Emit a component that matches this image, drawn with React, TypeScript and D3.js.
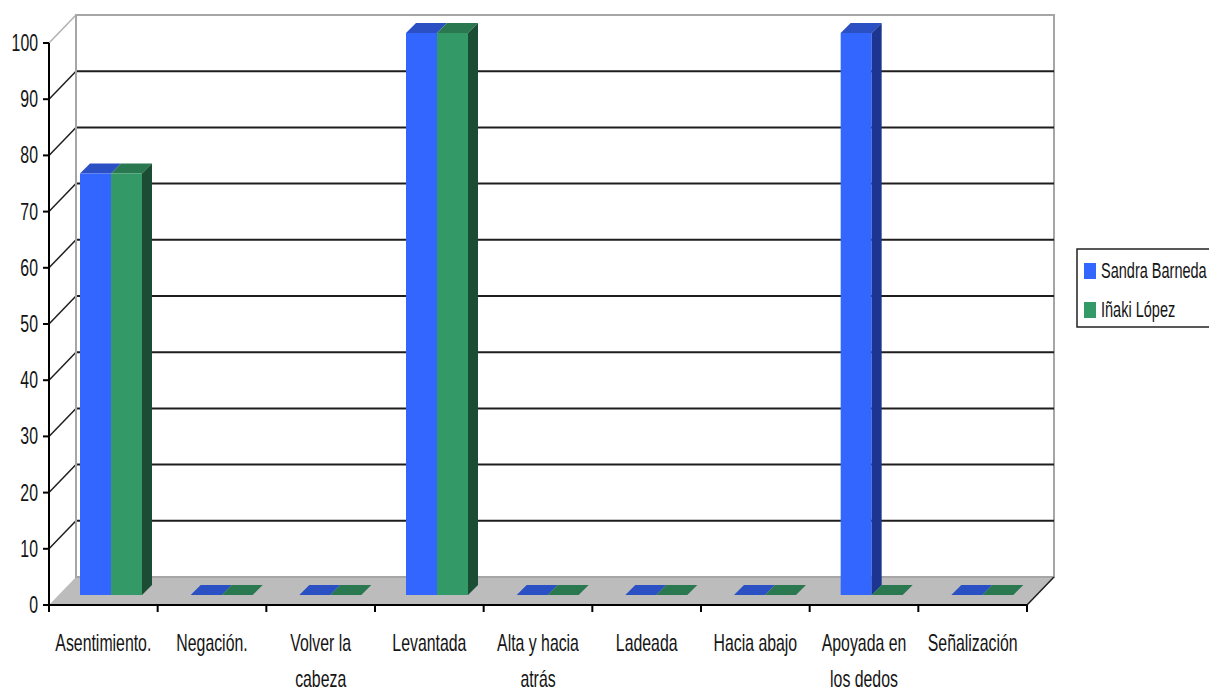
import React from "react";
import * as d3 from "d3";

const categories = [
  ["Asentimiento."],
  ["Negación."],
  ["Volver la", "cabeza"],
  ["Levantada"],
  ["Alta y hacia", "atrás"],
  ["Ladeada"],
  ["Hacia abajo"],
  ["Apoyada en", "los dedos"],
  ["Señalización"],
];
const seriesNames = ["Sandra Barneda", "Iñaki López"];
const sandraValues = [75, 0, 0, 100, 0, 0, 0, 100, 0];
const inakiValues = [75, 0, 0, 100, 0, 0, 0, 0, 0];
const yTicks = [0, 10, 20, 30, 40, 50, 60, 70, 80, 90, 100];

const seriesValues = [sandraValues, inakiValues];
const faceColors = [
  { front: "#3366ff", top: "#2a50c4", side: "#1b3590" },
  { front: "#339966", top: "#2a7850", side: "#1a4d33" },
];

const WIDTH = 1209;
const HEIGHT = 693;
const FONT = "'Liberation Sans', Arial, sans-serif";
const SQUEEZE = 0.66;

// Plot frame: the front plane of the box, and how far the back wall is pushed away.
const left = 49;
const right = 1027;
const wallDx = 27;
const wallDy = 28;
const barDepth = 10;

const x = d3.scaleBand<number>().domain(d3.range(categories.length)).range([left, right]);
const y = d3.scaleLinear().domain([0, 100]).range([605, 43]);
const inner = d3.scaleBand<number>().domain([0, 1]).range([0, 62]);
// Categories with no bars at all sit a touch further right than the raised ones.
const barStart = (i: number) =>
  (x(i) as number) + 31 + (seriesValues.every((v) => v[i] === 0) ? 2 : 0);

const poly = (pts: [number, number][]) => pts.map((p) => p.join(",")).join(" ");

function SqueezedText({ px, py, size, anchor, children }: any) {
  return (
    <text
      transform={`translate(${px},${py}) scale(${SQUEEZE},1)`}
      textAnchor={anchor}
      fontFamily={FONT}
      fontSize={size}
      fill="#141414"
    >
      {children}
    </text>
  );
}

export default function App() {
  return (
    <svg
      width={WIDTH}
      height={HEIGHT}
      style={{ position: "absolute", left: 0, top: 0, background: "#fff" }}
    >
      {/* floor */}
      <polygon
        points={poly([
          [left, y(0)],
          [left + wallDx, y(0) - wallDy],
          [right + wallDx, y(0) - wallDy],
          [right, y(0)],
        ])}
        fill="#bcbcbc"
      />
      {/* back wall */}
      <rect
        x={left + wallDx}
        y={y(100) - wallDy}
        width={right - left}
        height={y(0) - y(100)}
        fill="#fff"
        stroke="#a6a6a6"
        strokeWidth={2}
      />
      {/* gridlines across the back wall and down the side wall */}
      {yTicks.map((t) => (
        <g key={t}>
          {t > 0 && t < 100 && (
            <line
              x1={left + wallDx}
              x2={right + wallDx}
              y1={y(t) - wallDy}
              y2={y(t) - wallDy}
              stroke="#1e1e1e"
              strokeWidth={2}
            />
          )}
          {t > 0 && (
            <line
              x1={left}
              x2={left + wallDx}
              y1={y(t)}
              y2={y(t) - wallDy}
              stroke={t === 100 ? "#b0b0b0" : "#1e1e1e"}
              strokeWidth={1.5}
            />
          )}
        </g>
      ))}
      <line
        x1={left + wallDx}
        x2={left + wallDx}
        y1={y(100) - wallDy}
        y2={y(0) - wallDy}
        stroke="#a6a6a6"
        strokeWidth={2}
      />
      <line
        x1={right}
        x2={right + wallDx}
        y1={y(0)}
        y2={y(0) - wallDy}
        stroke="#1e1e1e"
        strokeWidth={1.5}
      />

      {/* bars, each with a front, top and side face */}
      {categories.map((_, i) =>
        seriesValues.map((values, s) => {
          const bx = barStart(i) + (inner(s) as number);
          const bw = inner.bandwidth();
          const base = y(0) - barDepth;
          const h = y(0) - y(values[i]);
          const top = base - h;
          const c = faceColors[s];
          return (
            <g key={`${i}-${s}`}>
              <polygon
                points={poly([
                  [bx, top],
                  [bx + barDepth, top - barDepth],
                  [bx + bw + barDepth, top - barDepth],
                  [bx + bw, top],
                ])}
                fill={c.top}
              />
              {h > 0 && (
                <>
                  <rect x={bx} y={top} width={bw} height={h} fill={c.front} />
                  {(s === 1 || seriesValues[1][i] < values[i]) && (
                    <polygon
                      points={poly([
                        [bx + bw, top],
                        [bx + bw + barDepth, top - barDepth],
                        [bx + bw + barDepth, base - barDepth],
                        [bx + bw, base],
                      ])}
                      fill={c.side}
                    />
                  )}
                </>
              )}
            </g>
          );
        })
      )}

      {/* value axis */}
      <line x1={left} x2={left} y1={y(100)} y2={y(0) + 7} stroke="#000" strokeWidth={2} />
      {yTicks.map((t) => (
        <g key={t}>
          <line x1={left - 6} x2={left} y1={y(t)} y2={y(t)} stroke="#000" strokeWidth={2} />
          <SqueezedText px={38} py={y(t) + 8} size={24} anchor="end">
            {t}
          </SqueezedText>
        </g>
      ))}

      {/* category axis */}
      <line x1={left} x2={right} y1={y(0)} y2={y(0)} stroke="#000" strokeWidth={2} />
      {categories.map((lines, i) => (
        <g key={i}>
          <line
            x1={(x(i) as number) + x.bandwidth()}
            x2={(x(i) as number) + x.bandwidth()}
            y1={y(0)}
            y2={y(0) + 7}
            stroke="#000"
            strokeWidth={2}
          />
          {lines.map((line, n) => (
            <SqueezedText
              key={n}
              px={(x(i) as number) + x.bandwidth() / 2}
              py={651 + n * 36}
              size={24}
              anchor="middle"
            >
              {line}
            </SqueezedText>
          ))}
        </g>
      ))}

      {/* legend, running off the right edge */}
      <rect x={1077} y={249} width={140} height={78} fill="#fff" stroke="#222" strokeWidth={1.5} />
      {seriesNames.map((name, s) => (
        <g key={name}>
          <rect x={1084} y={263 + s * 39} width={12} height={16} fill={faceColors[s].front} />
          <SqueezedText px={1101} py={278 + s * 39} size={22} anchor="start">
            {name}
          </SqueezedText>
        </g>
      ))}
    </svg>
  );
}
